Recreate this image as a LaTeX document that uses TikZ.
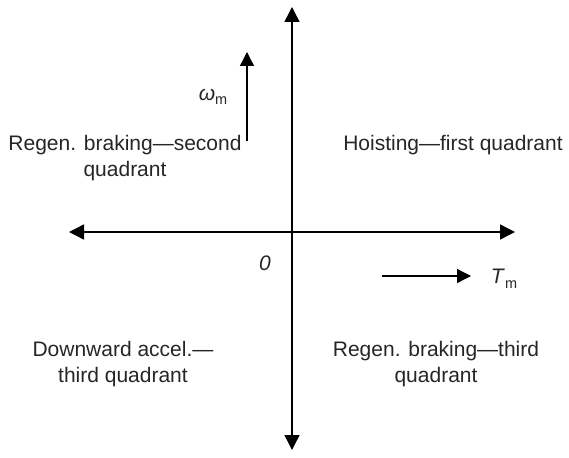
\documentclass[tikz,border=0pt]{standalone}
\usepackage{fontspec}
\setmainfont{Liberation Sans}
\usetikzlibrary{arrows.meta}
\begin{document}
\begin{tikzpicture}[x=1pt,y=-1pt,
  axis/.style={line width=1.4pt,-{Triangle[length=15pt,width=15pt]}},
  small/.style={line width=1.3pt,-{Triangle[length=14pt,width=14pt]}},
  lbl/.style={font=\fontsize{21}{26}\selectfont,align=center,inner sep=0pt,text=black!85},
  sym/.style={font=\fontsize{21}{26}\selectfont,inner sep=0pt,text=black!85}]
\useasboundingbox (0,0) rectangle (569,457);
\coordinate (O) at (292,232);
\coordinate (top) at (292,7);
\coordinate (bot) at (292,450);
\coordinate (left) at (69,232);
\coordinate (right) at (515,232);
\draw[axis] (O) -- (top);
\draw[axis] (O) -- (bot);
\draw[axis] (O) -- (left);
\draw[axis] (O) -- (right);
\coordinate (w0) at (247,141);
\coordinate (w1) at (247,52);
\draw[small] (w0) -- (w1);
\coordinate (t0) at (382,276);
\coordinate (t1) at (471,276);
\draw[small] (t0) -- (t1);
\node[sym] (wm) at (213,97) {\textit{ω}\raisebox{-0.35ex}{\fontsize{14.5}{14.5}\selectfont m}};
\node[sym] (tm) at (504,279) {\textit{T}\raisebox{-0.45ex}{\fontsize{14.5}{14.5}\selectfont m}};
\node[sym] (zero) at (265,263) {\textit{0}};
\node[lbl] (q2) at (125,158) {Regen. braking—second\\quadrant};
\node[lbl] (q1) at (453,145) {Hoisting—first quadrant};
\node[lbl] (q3) at (123,364) {Downward accel.—\\third quadrant};
\node[lbl] (q4) at (436,364) {Regen. braking—third\\quadrant};
\end{tikzpicture}
\end{document}
